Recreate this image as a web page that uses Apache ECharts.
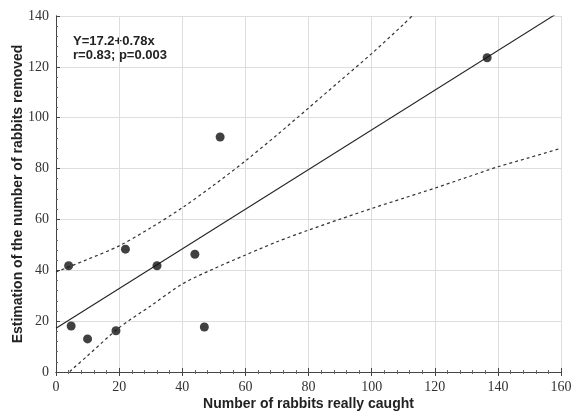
<!DOCTYPE html>
<html>
<head>
<meta charset="utf-8">
<script src="https://cdn.jsdelivr.net/npm/echarts@6/dist/echarts.min.js"></script>
<style>html,body{margin:0;padding:0;background:#fff;}#c{width:573px;height:413px;}</style>
</head>
<body>
<div id="c"></div>
<script>
// Observed points
var caughtX = [4, 4.8, 10, 19, 22, 32, 44, 47, 52, 136.6];
var removedY = [41.8, 18.1, 13, 16.2, 48.3, 41.8, 46.3, 17.7, 92.4, 123.6];
var fitX = [0, 160];
var fitY = [17.2, 142];
// Upper confidence band
var upX = [0, 10, 20, 30, 40, 50, 60, 70, 80, 90, 100, 110, 112.8];
var upY = [39.3, 44.3, 49.6, 56.7, 64.6, 73.5, 83, 93.2, 103.8, 114.5, 125.2, 136.6, 140];
// Lower confidence band
var loX = [0, 5, 10, 20, 30, 40, 50, 60, 70, 80, 90, 100, 110, 120, 130, 140, 150, 160];
var loY = [-4.5, 0.9, 6.4, 17.4, 26, 34.6, 40.6, 46, 51.2, 55.8, 60.1, 64.3, 68.3, 72.3, 76.5, 80.7, 84.3, 88];
// Axis ticks
var xTicks = [0, 20, 40, 60, 80, 100, 120, 140, 160];
var yTicks = [0, 20, 40, 60, 80, 100, 120, 140];

function pairs(a, b) { return a.map(function (v, i) { return [v, b[i]]; }); }

var chart = echarts.init(document.getElementById('c'), null, { renderer: 'canvas' });
var serif = '"Liberation Serif", "DejaVu Serif", serif';
var sans = '"Liberation Sans", Arial, sans-serif';
var axisLineStyle = { color: '#444', width: 1 };

chart.setOption({
  animation: false,
  backgroundColor: '#fff',
  grid: { left: 56, right: 12, top: 16, bottom: 41, containLabel: false, outerBoundsMode: 'none' },
  xAxis: [{
    type: 'value', min: xTicks[0], max: xTicks[xTicks.length - 1], interval: 20,
    name: 'Number of rabbits really caught', nameLocation: 'middle', nameGap: 25, nameMoveOverlap: false,
    nameTextStyle: { fontFamily: sans, fontSize: 14, fontWeight: 'bold', color: '#222' },
    axisLine: { show: true, lineStyle: axisLineStyle },
    axisTick: { show: true, inside: true, length: 4, lineStyle: { color: '#444' } },
    minorTick: { show: true, splitNumber: 5, length: 2, lineStyle: { color: '#666' } },
    axisLabel: { fontFamily: serif, fontSize: 14, color: '#333', margin: 8 },
    splitLine: { show: true, lineStyle: { color: '#ddd', width: 1 } }
  }, {
    type: 'value', position: 'top', min: 0, max: 160, interval: 20,
    axisLine: { show: true, lineStyle: axisLineStyle },
    axisTick: { show: true, inside: true, length: 4, lineStyle: { color: '#444' } },
    minorTick: { show: true, splitNumber: 5, length: 2, lineStyle: { color: '#666' } },
    axisLabel: { show: false }, splitLine: { show: false }
  }],
  yAxis: [{
    type: 'value', min: yTicks[0], max: yTicks[yTicks.length - 1], interval: 20,
    name: 'Estimation of the number of rabbits removed', nameLocation: 'middle', nameGap: 31, nameMoveOverlap: false,
    nameTextStyle: { fontFamily: sans, fontSize: 14, fontWeight: 'bold', color: '#222' },
    axisLine: { show: true, lineStyle: axisLineStyle },
    axisTick: { show: true, inside: true, length: 4, lineStyle: { color: '#444' } },
    minorTick: { show: true, splitNumber: 5, length: 2, lineStyle: { color: '#666' } },
    axisLabel: { fontFamily: serif, fontSize: 14, color: '#333', margin: 7 },
    splitLine: { show: true, lineStyle: { color: '#ddd', width: 1 } }
  }, {
    type: 'value', position: 'right', min: 0, max: 140, interval: 20,
    axisLine: { show: true, lineStyle: axisLineStyle },
    axisTick: { show: true, inside: false, length: 4, lineStyle: { color: '#444' } },
    minorTick: { show: true, splitNumber: 5, length: 2, lineStyle: { color: '#666' } },
    axisLabel: { show: false }, splitLine: { show: false }
  }],
  graphic: [{
    type: 'text', left: 73, top: 34,
    style: {
      text: 'Y=17.2+0.78x\nr=0.83; p=0.003',
      font: 'bold 13px "Liberation Sans", Arial, sans-serif',
      fill: '#222', lineHeight: 14
    }
  }],
  series: [{
    type: 'line', data: pairs(fitX, fitY), showSymbol: false, clip: true,
    lineStyle: { color: '#222', width: 1.1 }, silent: true, z: 3
  }, {
    type: 'line', data: pairs(upX, upY), showSymbol: false, smooth: 0.3, clip: true,
    lineStyle: { color: '#333', width: 1.2, type: [3, 3] }, silent: true, z: 3
  }, {
    type: 'line', data: pairs(loX, loY), showSymbol: false, smooth: 0.3, clip: true,
    lineStyle: { color: '#333', width: 1.2, type: [3, 3] }, silent: true, z: 3
  }, {
    type: 'scatter', data: pairs(caughtX, removedY), symbol: 'circle', symbolSize: 9,
    itemStyle: { color: '#111' }, z: 4
  }]
});
</script>
</body>
</html>
